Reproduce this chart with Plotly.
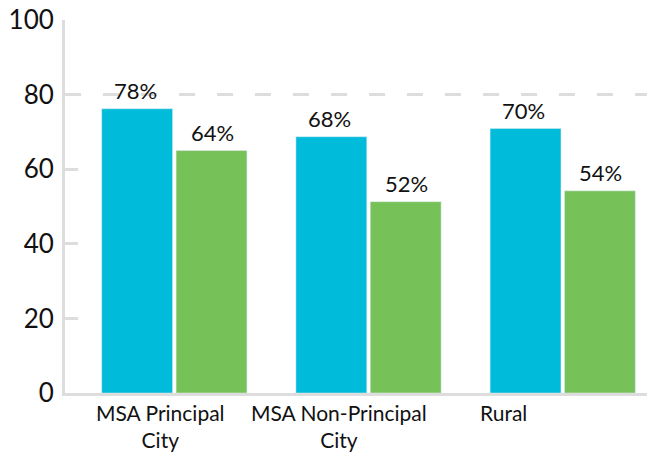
import plotly.graph_objects as go

categories = ["MSA Principal<br>City", "MSA Non-Principal<br>City", "Rural"]
series_a = [76.2, 68.7, 70.9]
series_b = [65.0, 51.3, 54.2]
labels_a = ["78%", "68%", "70%"]
labels_b = ["64%", "52%", "54%"]
y_ticks = [0, 20, 40, 60, 80, 100]

BLUE = "#00bbd9"
GREEN = "#77c159"
GRAY = "#dddddd"
FONT = "Lato"
TXT = "#111111"
CAT_LABEL_SHIFT = [-14, -30, -59]

fig = go.Figure()
fig.add_trace(go.Bar(x=categories, y=series_a, marker_color=BLUE, cliponaxis=False))
fig.add_trace(go.Bar(x=categories, y=series_b, marker_color=GREEN, cliponaxis=False))

for cat, va, vb, la, lb, sh in zip(categories, series_a, series_b, labels_a, labels_b,
                                   CAT_LABEL_SHIFT):
    fig.add_annotation(x=cat, y=va, text=la, xshift=-39, yshift=3, yanchor="bottom",
                       showarrow=False, font=dict(size=22, family=FONT, color=TXT))
    fig.add_annotation(x=cat, y=vb, text=lb, xshift=38, yshift=3, yanchor="bottom",
                       showarrow=False, font=dict(size=22, family=FONT, color=TXT))
    fig.add_annotation(x=cat, y=0, text=cat, xshift=sh, yshift=-5, yanchor="top",
                       align="center", showarrow=False,
                       font=dict(size=21, family=FONT, color=TXT))

fig.add_shape(type="line", xref="paper", yref="y", x0=0, x1=1, y0=80, y1=80,
              line=dict(color=GRAY, width=3, dash="16px,22px"), layer="below")

fig.update_layout(
    width=647, height=453,
    margin=dict(l=65, r=0, t=20, b=60),
    plot_bgcolor="white", paper_bgcolor="white",
    showlegend=False,
    barmode="group", bargap=0.234, bargroupgap=0.047,
    font=dict(family=FONT, color=TXT),
)
fig.update_xaxes(range=[-0.563, 2.434], showline=True, linecolor=GRAY, linewidth=3,
                 ticks="", showticklabels=False,
                 showgrid=False, automargin=False)
fig.update_yaxes(range=[0, 100], tickvals=y_ticks, showgrid=False, zeroline=False,
                 showline=True, linecolor=GRAY, linewidth=3,
                 ticks="inside", ticklen=13, tickwidth=3, tickcolor=GRAY,
                 tickfont=dict(size=26, family=FONT, color=TXT), ticklabelstandoff=3,
                 ticklabeloverflow="allow", automargin=False)

fig.write_html("out.html", config={"displayModeBar": False},
               post_script="document.body.style.margin='0';document.body.style.overflow='hidden';")
